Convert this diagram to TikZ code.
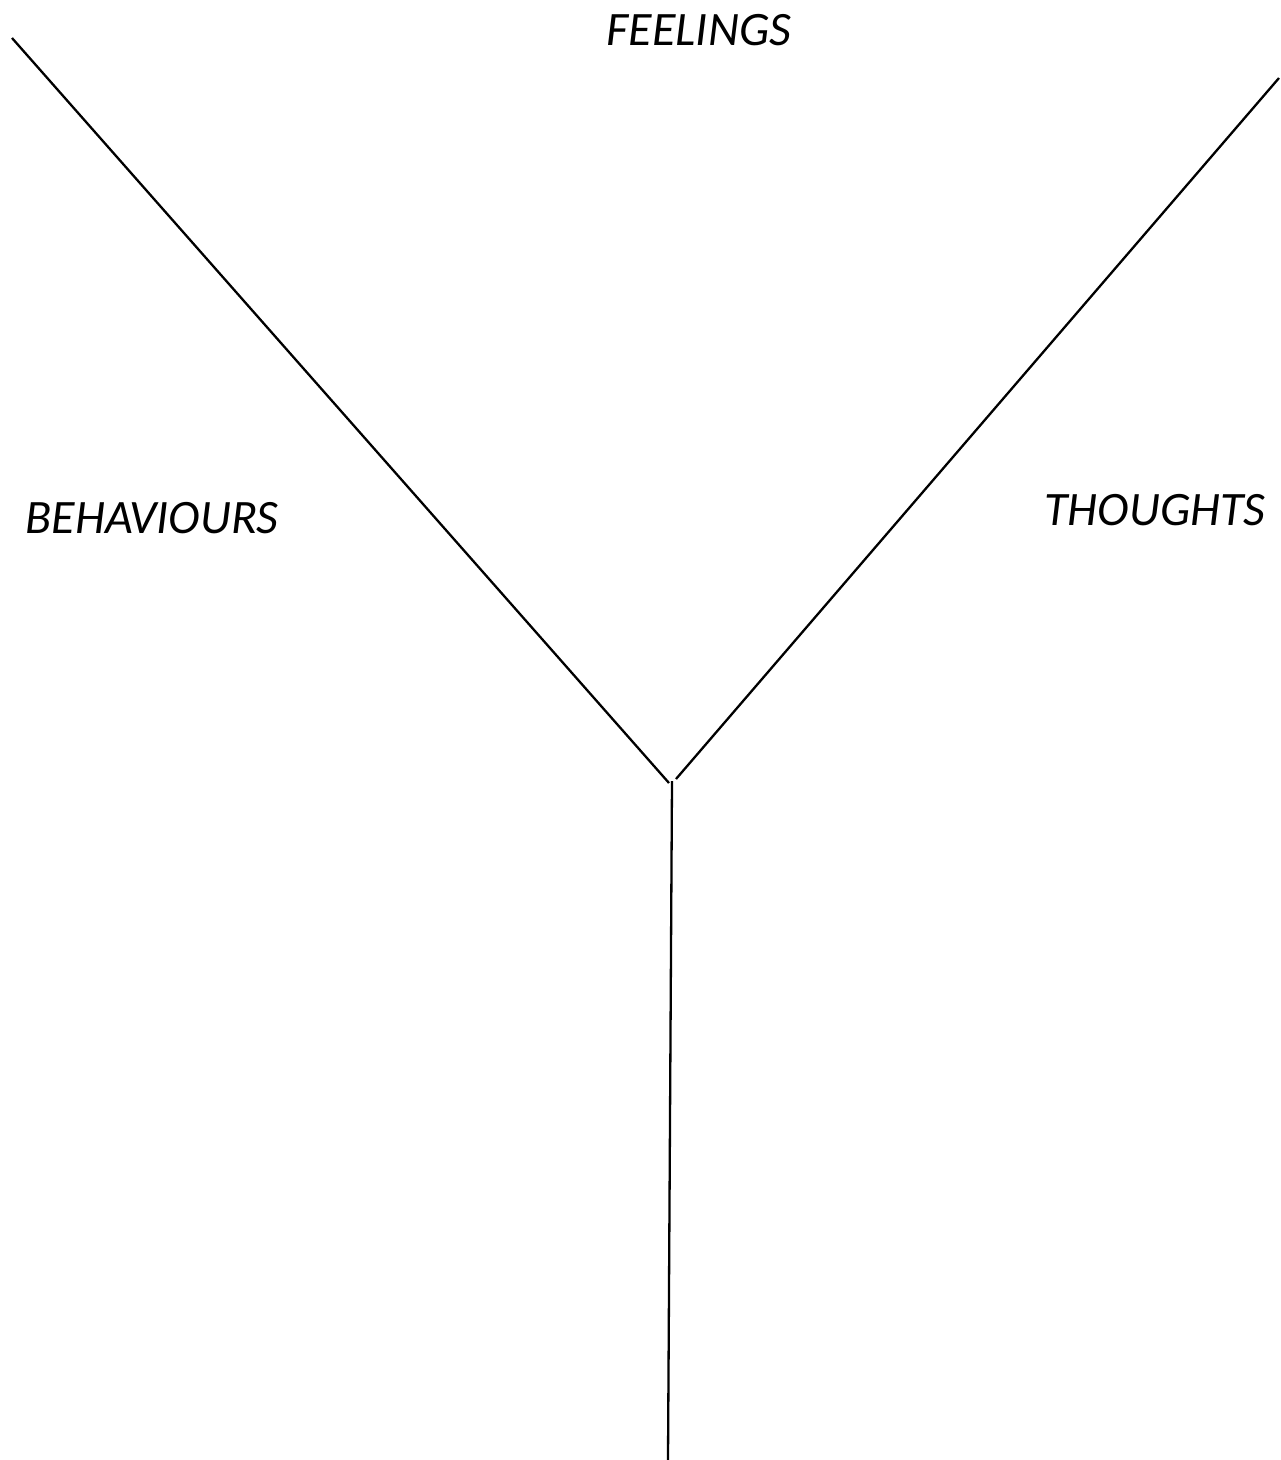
\documentclass[tikz,border=0pt]{standalone}
\usepackage{fontspec}
\setmainfont{Carlito}
\begin{document}
\begin{tikzpicture}[x=1pt,y=-1pt,
  lbl/.style={font=\fontsize{48}{54}\selectfont\itshape, anchor=base, inner sep=0pt},
  ln/.style={line width=2.3pt, black}]
\useasboundingbox[fill=white] (0,0) rectangle (1281,1460);
\coordinate (lt) at (12,38);
\coordinate (le) at (669,783);
\coordinate (rt) at (1279,78);
\coordinate (re) at (676,779);
\coordinate (vt) at (672,781);
\coordinate (vb) at (668,1460);
\draw[ln] (lt) -- (le);
\draw[ln] (rt) -- (re);
\draw[ln] (vt) -- (vb);
\node[lbl] (feel) at (699,45) {FEELINGS};
\node[lbl] (beh) at (152,533) {BEHAVIOURS};
\node[lbl] (th) at (1155,525) {THOUGHTS};
\end{tikzpicture}
\end{document}
